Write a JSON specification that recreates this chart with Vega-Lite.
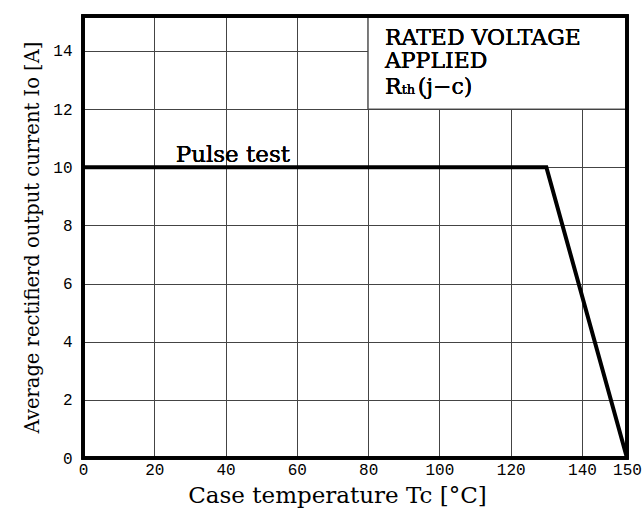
{
  "$schema": "https://vega.github.io/schema/vega-lite/v6.json",
  "width": 544,
  "height": 442,
  "autosize": {"type": "none"},
  "padding": {"left": 83, "top": 16, "right": 17, "bottom": 54},
  "background": "white",
  "config": {"view": {"stroke": null}, "font": "DejaVu Serif"},
  "data": {"values": [
    {"Tc": 0, "Io": 10},
    {"Tc": 130, "Io": 10},
    {"Tc": 150, "Io": 0}
  ]},
  "layer": [
    {
      "mark": {"type": "rect", "fill": "white", "stroke": "#444", "strokeWidth": 1},
      "encoding": {
        "x": {"datum": 80, "type": "quantitative",
          "scale": {"domain": [0, 140, 150], "range": [0, 499, 544], "nice": false, "zero": false},
          "axis": {"values": [0, 20, 40, 60, 80, 100, 120, 140, 150],
            "title": "Case temperature Tc [°C]",
            "domain": false, "ticks": false, "grid": true,
            "labelFont": "Liberation Mono", "labelFontSize": 16, "labelColor": "black",
            "labelPadding": 3, "labelOverlap": false, "labelFlush": false,
            "gridColor": "#444", "gridWidth": 1, "gridOpacity": 1,
            "titleFont": "DejaVu Serif", "titleFontSize": 23, "titleFontWeight": "normal",
            "titleColor": "black", "titlePadding": 7, "titleX": 254}},
        "x2": {"datum": 150},
        "y": {"datum": 12, "type": "quantitative",
          "scale": {"domain": [0, 15.2], "nice": false, "zero": false},
          "axis": {"values": [0, 2, 4, 6, 8, 10, 12, 14],
            "title": "Average rectifierd output current Io [A]",
            "domain": false, "ticks": false, "grid": true,
            "labelFont": "Liberation Mono", "labelFontSize": 16, "labelColor": "black",
            "labelPadding": 11, "labelOverlap": false, "labelFlush": false,
            "gridColor": "#444", "gridWidth": 1, "gridOpacity": 1,
            "titleFont": "DejaVu Serif", "titleFontSize": 19.5, "titleFontWeight": "normal",
            "titleColor": "black", "titlePadding": 10}},
        "y2": {"datum": 15.2}
      }
    },
    {
      "mark": {"type": "line", "color": "black", "strokeWidth": 4, "strokeJoin": "miter"},
      "encoding": {
        "x": {"field": "Tc", "type": "quantitative"},
        "y": {"field": "Io", "type": "quantitative"}
      }
    },
    {
      "mark": {"type": "text", "text": "Pulse test", "align": "left", "baseline": "alphabetic",
        "fontSize": 23, "color": "black", "font": "DejaVu Serif"},
      "encoding": {
        "x": {"datum": 26, "type": "quantitative"},
        "y": {"datum": 10.18, "type": "quantitative"}
      }
    },
    {
      "mark": {"type": "text", "text": "RATED VOLTAGE", "align": "left", "baseline": "alphabetic",
        "fontSize": 22, "color": "black", "font": "DejaVu Serif"},
      "encoding": {
        "x": {"datum": 84.7, "type": "quantitative"},
        "y": {"datum": 14.21, "type": "quantitative"}
      }
    },
    {
      "mark": {"type": "text", "text": "APPLIED", "align": "left", "baseline": "alphabetic",
        "fontSize": 22, "color": "black", "font": "DejaVu Serif"},
      "encoding": {
        "x": {"datum": 84.7, "type": "quantitative"},
        "y": {"datum": 13.42, "type": "quantitative"}
      }
    },
    {
      "mark": {"type": "text", "text": "R", "align": "left", "baseline": "alphabetic",
        "fontSize": 22, "color": "black", "font": "DejaVu Serif"},
      "encoding": {
        "x": {"datum": 84.7, "type": "quantitative"},
        "y": {"datum": 12.52, "type": "quantitative"}
      }
    },
    {
      "mark": {"type": "text", "text": "th", "align": "left", "baseline": "alphabetic",
        "fontSize": 13, "color": "black", "font": "DejaVu Serif"},
      "encoding": {
        "x": {"datum": 89.4, "type": "quantitative"},
        "y": {"datum": 12.52, "type": "quantitative"}
      }
    },
    {
      "mark": {"type": "text", "text": "(j−c)", "align": "left", "baseline": "alphabetic",
        "fontSize": 22, "color": "black", "font": "DejaVu Serif"},
      "encoding": {
        "x": {"datum": 93.9, "type": "quantitative"},
        "y": {"datum": 12.52, "type": "quantitative"}
      }
    },
    {
      "mark": {"type": "rect", "filled": false, "fill": null, "stroke": "black", "strokeWidth": 3.5},
      "encoding": {
        "x": {"datum": 0, "type": "quantitative"},
        "x2": {"datum": 150},
        "y": {"datum": 0, "type": "quantitative"},
        "y2": {"datum": 15.2}
      }
    }
  ]
}
